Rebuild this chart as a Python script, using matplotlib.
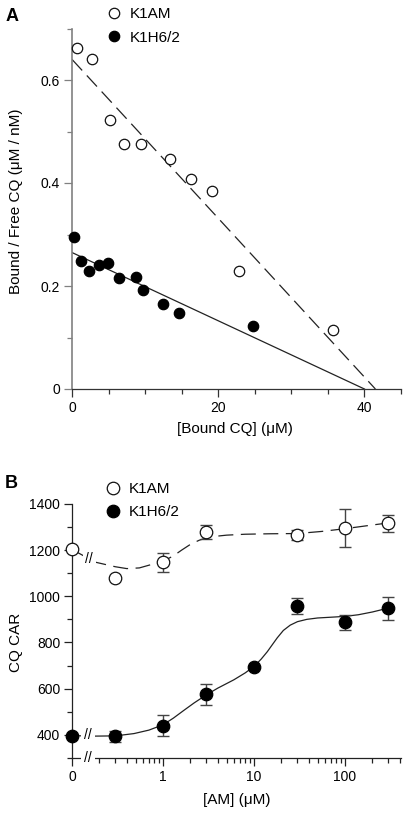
import numpy as np
import matplotlib
matplotlib.use('Agg')
import matplotlib.pyplot as plt

plt.rcParams['font.family'] = ['Liberation Sans', 'DejaVu Sans']

# ---------------- Panel A data (Scatchard plot) ----------------
series_names = ['K1AM', 'K1H6/2']
a_am_bound = [0.7, 2.8, 5.2, 7.1, 9.5, 13.4, 16.3, 19.2, 22.9, 35.7]
a_am_ratio = [0.663, 0.641, 0.522, 0.476, 0.475, 0.446, 0.408, 0.384, 0.229, 0.115]
a_h6_bound = [0.3, 1.2, 2.3, 3.65, 4.9, 6.4, 8.8, 9.7, 12.5, 14.6, 24.7]
a_h6_ratio = [0.296, 0.249, 0.229, 0.240, 0.245, 0.215, 0.218, 0.193, 0.166, 0.147, 0.122]
# fitted lines: (y-intercept, x-intercept)
a_am_fit = (0.64, 41.5)
a_h6_fit = (0.265, 40.0)
a_xticks = [0, 20, 40]
a_yticks = [0, 0.2, 0.4, 0.6]
a_yticklabels = ['0', '0.2', '0.4', '0.6']

# ---------------- Panel B data (dose response) ----------------
b_am_conc = [0, 0.3, 1, 3, 30, 100, 300]
b_am_car = [1203, 1079, 1148, 1278, 1265, 1297, 1317]
b_am_err = [0, 0, 41, 30, 21, 83, 37]
b_h6_conc = [0, 0.3, 1, 3, 10, 30, 100, 300]
b_h6_car = [396, 393, 439, 576, 693, 958, 887, 948]
b_h6_err = [0, 25, 45, 46, 0, 33, 31, 50]
# fitted curves
b_am_curve_x = [0, 0.18, 0.25, 0.3, 0.4, 0.55, 0.75, 1, 1.3, 1.6, 2, 2.5, 3, 4, 5, 8, 15, 30, 55, 100, 200, 300]
b_am_curve_y = [1203, 1148, 1135, 1128, 1120, 1123, 1138, 1152, 1175, 1200, 1225, 1243, 1253, 1261, 1265, 1269, 1271, 1272, 1281, 1293, 1309, 1318]
b_h6_curve_x = [0, 0.18, 0.3, 0.48, 0.7, 1, 1.3, 1.7, 2.2, 3, 4, 6, 8, 10, 12, 14, 16, 18, 21, 25, 30, 38, 50, 75, 100, 140, 200, 300]
b_h6_curve_y = [396, 394, 395, 405, 420, 443, 472, 506, 538, 573, 602, 638, 668, 696, 728, 760, 792, 820, 852, 875, 890, 900, 906, 910, 913, 920, 932, 949]
b_xticks = [0, 1, 10, 100]
b_xticklabels = ['0', '1', '10', '100']
b_xminor = [0.2, 0.3, 0.4, 0.5, 0.6, 0.7, 0.8, 0.9,
            2, 3, 4, 5, 6, 7, 8, 9,
            20, 30, 40, 50, 60, 70, 80, 90,
            200, 300, 400]

W, H = 410, 818
fig = plt.figure(figsize=(W / 100, H / 100), dpi=100)


def px_box(x0, y0, x1, y1):
    return [x0 / W, 1 - y1 / H, (x1 - x0) / W, (y1 - y0) / H]


TICK_KW = dict(direction='out', labelsize=10, pad=3)

# ================= Panel A =================
axA = fig.add_axes(px_box(72, 28.5, 401, 389))
axA.plot([0, a_am_fit[1]], [a_am_fit[0], 0], color='#222222', lw=0.9,
         dashes=(12, 5.5), zorder=2)
axA.plot([0, a_h6_fit[1]], [a_h6_fit[0], 0], color='#222222', lw=0.9, zorder=2)
hA_am, = axA.plot(a_am_bound, a_am_ratio, ls='none', marker='o', ms=7.5,
                  mfc='white', mec='#111111', mew=0.9, clip_on=False, zorder=3,
                  label=series_names[0])
hA_h6, = axA.plot(a_h6_bound, a_h6_ratio, ls='none', marker='o', ms=7.5,
                  mfc='black', mec='black', mew=0.9, clip_on=False, zorder=3,
                  label=series_names[1])
axA.set_xlim(0, 45)
axA.set_ylim(0, 0.7)
axA.set_xticks(a_xticks)
axA.set_xticks([5, 10, 15, 25, 30, 35, 45], minor=True)
axA.set_yticks(a_yticks, labels=a_yticklabels)
axA.set_yticks([0.1, 0.3, 0.5, 0.7], minor=True)
for s in ['top', 'right']:
    axA.spines[s].set_visible(False)
axA.spines['left'].set_color('#808080')
axA.spines['left'].set_linewidth(1.2)
axA.spines['bottom'].set_color('#333333')
axA.spines['bottom'].set_linewidth(0.9)
axA.tick_params(which='major', length=5.5, width=0.9, **TICK_KW)
axA.tick_params(which='minor', length=3.6, width=0.9, direction='out')
axA.tick_params(axis='y', which='both', color='#808080')
axA.tick_params(axis='x', which='both', color='#333333')
axA.set_xlabel('[Bound CQ] (μM)', fontsize=11)
axA.xaxis.label.set(va='center', ha='center')
axA.xaxis.set_label_coords(0.495, -0.1096)
axA.set_ylabel('Bound / Free CQ (μM / nM)', fontsize=11)
axA.yaxis.label.set(va='center', ha='center', rotation_mode='anchor')
axA.yaxis.set_label_coords(-0.17, 0.52)
axA.legend(handles=[hA_am, hA_h6], loc='upper left',
           bbox_to_anchor=(106.6 / W, 1 - 7.5 / H), bbox_transform=fig.transFigure,
           frameon=False, fontsize=11, handlelength=1.0, handletextpad=0.5,
           labelspacing=0.59, borderpad=0, borderaxespad=0)
fig.text(12.5 / W, 1 - 16.7 / H, 'A', fontsize=13, fontweight='bold',
         ha='center', va='center')

# ================= Panel B =================
axB = fig.add_axes(px_box(72, 504, 401, 757.8))


def fwd(x):
    return np.log10(np.maximum(np.asarray(x, dtype=float), 0.1))


def inv(y):
    return 10 ** np.asarray(y, dtype=float)


axB.set_xscale('function', functions=(fwd, inv))
axB.set_xlim(0, 412)
axB.set_ylim(300, 1400)

axB.plot(b_am_curve_x, b_am_curve_y, color='#222222', lw=0.9, dashes=(12, 6),
         zorder=2, clip_on=False)
axB.plot(b_h6_curve_x, b_h6_curve_y, color='#222222', lw=0.9, zorder=2,
         clip_on=False)

am_x = np.array(b_am_conc, float); am_y = np.array(b_am_car, float); am_e = np.array(b_am_err, float)
h6_x = np.array(b_h6_conc, float); h6_y = np.array(b_h6_car, float); h6_e = np.array(b_h6_err, float)
m = am_e > 0
axB.errorbar(am_x[m], am_y[m], yerr=am_e[m], fmt='none', ecolor='#444444',
             elinewidth=1.0, capsize=4.2, capthick=1.0, zorder=2.5, clip_on=False)
m = h6_e > 0
axB.errorbar(h6_x[m], h6_y[m], yerr=h6_e[m], fmt='none', ecolor='#444444',
             elinewidth=1.0, capsize=4.2, capthick=1.0, zorder=2.5, clip_on=False)
hB_am, = axB.plot(am_x, am_y, ls='none', marker='o', ms=9, mfc='white',
                  mec='#111111', mew=0.9, clip_on=False, zorder=3,
                  label=series_names[0])
hB_h6, = axB.plot(h6_x, h6_y, ls='none', marker='o', ms=9, mfc='black',
                  mec='black', mew=0.9, clip_on=False, zorder=3,
                  label=series_names[1])

# axis breaks
brk = dict(fontsize=10, ha='center', va='center', zorder=4,
           bbox=dict(boxstyle='square,pad=0.2', fc='white', ec='none'))
axB.text(0.15, 300, '//', **brk)
axB.text(0.15, 398, '//', **brk)
axB.text(0.155, 1160, '//', **brk)

axB.set_xticks(b_xticks, labels=b_xticklabels)
axB.set_xticks(b_xminor, minor=True)
axB.set_yticks([400, 600, 800, 1000, 1200, 1400])
axB.set_yticks([300, 500, 700, 900, 1100, 1300], minor=True)
for s in ['top', 'right']:
    axB.spines[s].set_visible(False)
for s in ['left', 'bottom']:
    axB.spines[s].set_color('#222222')
    axB.spines[s].set_linewidth(0.9)
axB.tick_params(which='major', length=5.5, width=0.9, color='#222222', **TICK_KW)
axB.tick_params(which='minor', length=3.4, width=0.9, color='#222222', direction='out')
axB.set_xlabel('[AM] (μM)', fontsize=11)
axB.xaxis.label.set(va='center', ha='center')
axB.xaxis.set_label_coords(0.5, -0.168)
axB.set_ylabel('CQ CAR', fontsize=11)
axB.yaxis.label.set(va='center', ha='center', rotation_mode='anchor')
axB.yaxis.set_label_coords(-0.17, 0.456)
axB.legend(handles=[hB_am, hB_h6], loc='upper left',
           bbox_to_anchor=(105.6 / W, 1 - 482.2 / H), bbox_transform=fig.transFigure,
           frameon=False, fontsize=11, handlelength=1.0, handletextpad=0.5,
           labelspacing=0.59, borderpad=0, borderaxespad=0)
fig.text(11.7 / W, 1 - 483 / H, 'B', fontsize=13, fontweight='bold',
         ha='center', va='center')

fig.savefig('out.png', dpi=100)
